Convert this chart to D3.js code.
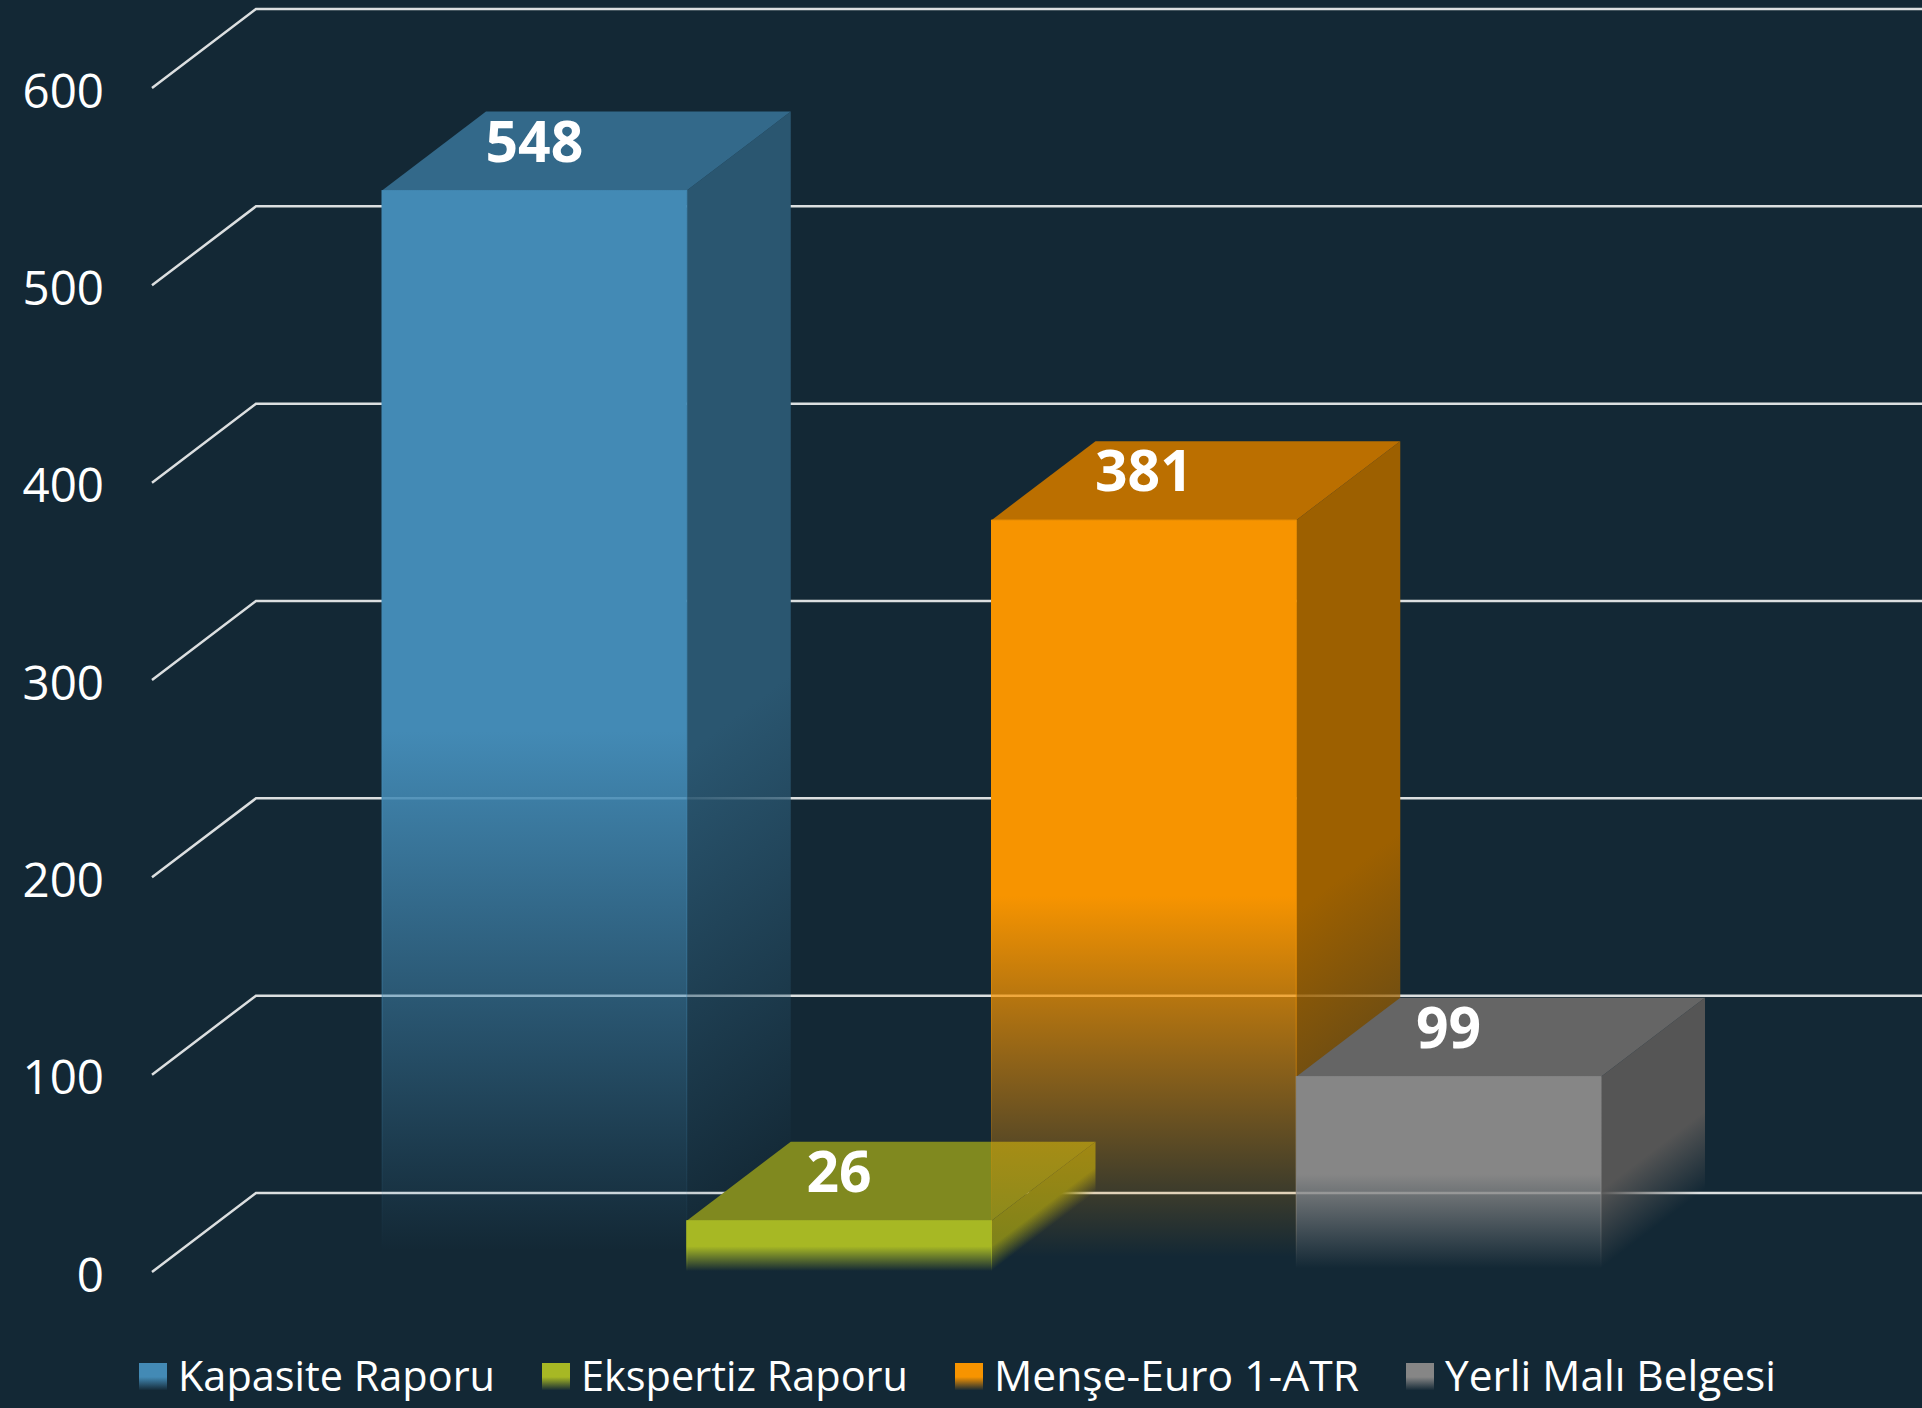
<!DOCTYPE html>
<html>
<head>
<meta charset="utf-8">
<script src="https://cdnjs.cloudflare.com/ajax/libs/d3/7.8.5/d3.min.js"></script>
<style>
  html, body { margin: 0; padding: 0; background: #132835; overflow: hidden; }
  text { font-family: "Open Sans", sans-serif; fill: #fff; }
</style>
</head>
<body>
<div id="chart"></div>
<script>
const categories = ["Kapasite Raporu", "Ekspertiz Raporu", "Menşe-Euro 1-ATR", "Yerli Malı Belgesi"];
const values = [548, 26, 381, 99];
const frontColors = ["#438ab5", "#a7b824", "#f79400", "#868686"];
const topColors = ["#33698a", "#80891f", "#bb6f00", "#656565"];
const sideColors = ["#2a5670", "#7a821b", "#9d6000", "#555555"];
const yTicks = [0, 100, 200, 300, 400, 500, 600];

const width = 1922, height = 1408;
const depthX = 104, depthY = -79;
// legend text widths as measured, the substitute font runs a bit narrow
const legendWidths = [317, 327, 365, 331];
// where each side face starts to fade
const sideFadeStart = [0.52, 0.5, 0.52, 0.58];
// orange side is only seen above grey's top, it stops there and must not show through grey's front
const sideCut = [null, null, 0.742, null];

const svg = d3.select("#chart").append("svg")
    .attr("width", width)
    .attr("height", height)
    .style("display", "block");

const x = d3.scaleBand().domain(categories).range([382, 1601]).padding(0);
const y = d3.scaleLinear().domain([0, 600]).range([1272, 88]);

const defs = svg.append("defs");

function fadeStops(grad, color, start = 0.5, cut = null) {
    grad.append("stop").attr("offset", start).attr("stop-color", color).attr("stop-opacity", 1);
    if (cut) {
        grad.append("stop").attr("offset", cut).attr("stop-color", color).attr("stop-opacity", 0.7);
        grad.append("stop").attr("offset", cut + 0.002).attr("stop-color", color).attr("stop-opacity", 0);
    } else {
        grad.append("stop").attr("offset", 0.98).attr("stop-color", color).attr("stop-opacity", 0);
    }
}

categories.forEach((c, i) => {
    const x0 = x(c), x1 = x0 + x.bandwidth(), yTop = y(values[i]), yBase = y(0);
    fadeStops(defs.append("linearGradient").attr("id", `front${i}`)
        .attr("gradientUnits", "userSpaceOnUse")
        .attr("x1", 0).attr("x2", 0).attr("y1", yTop).attr("y2", yBase), frontColors[i]);
    // side face is sheared, so its gradient gets the same shear
    const k = depthY / depthX;
    fadeStops(defs.append("linearGradient").attr("id", `side${i}`)
        .attr("gradientUnits", "userSpaceOnUse")
        .attr("x1", 0).attr("x2", 0).attr("y1", yTop).attr("y2", yBase)
        .attr("gradientTransform", `matrix(1 ${k} 0 1 0 ${-k * x1})`),
        sideColors[i], sideFadeStart[i], sideCut[i]);
    fadeStops(defs.append("linearGradient").attr("id", `swatch${i}`)
        .attr("x1", 0).attr("x2", 0).attr("y1", 0).attr("y2", 1), frontColors[i]);
});

// gridlines with the wall corner
const grid = svg.append("g");
grid.selectAll("path")
    .data(yTicks)
    .enter()
    .append("path")
    .attr("d", d => `M152,${y(d)}L${152 + depthX},${y(d) + depthY}L${width},${y(d) + depthY}`)
    .attr("fill", "none")
    .attr("stroke", "#dcdfe0")
    .attr("stroke-width", 2.5);

// y axis labels
const axis = svg.append("g")
    .attr("transform", "translate(104,4)")
    .call(d3.axisLeft(y).tickValues(yTicks).tickSize(0).tickPadding(0));
axis.select(".domain").remove();
axis.selectAll("text")
    .style("font-family", '"Open Sans", sans-serif')
    .style("font-size", "47.5px")
    .attr("fill", "#fff");

// bars, drawn in category order
const bars = svg.append("g");
categories.forEach((c, i) => {
    const x0 = x(c), x1 = x0 + x.bandwidth(), yTop = y(values[i]), yBase = y(0);
    const g = bars.append("g");
    g.append("path")
        .attr("d", `M${x1},${yTop}L${x1 + depthX},${yTop + depthY}L${x1 + depthX},${yBase + depthY}L${x1},${yBase}Z`)
        .attr("fill", `url(#side${i})`);
    g.append("path")
        .attr("d", `M${x0},${yTop}L${x0 + depthX},${yTop + depthY}L${x1 + depthX},${yTop + depthY}L${x1},${yTop}Z`)
        .attr("fill", topColors[i]);
    g.append("rect")
        .attr("x", x0)
        .attr("y", yTop)
        .attr("width", x.bandwidth())
        .attr("height", yBase - yTop)
        .attr("fill", `url(#front${i})`)
        .attr("stroke", `url(#front${i})`)
        .attr("stroke-width", 1);
});

// value labels
svg.append("g").selectAll("text")
    .data(values)
    .enter()
    .append("text")
    .attr("x", (d, i) => x(categories[i]) + x.bandwidth() / 2)
    .attr("y", d => y(d) - 29)
    .attr("text-anchor", "middle")
    .style("font-size", "57px")
    .style("font-weight", 700)
    .text(d => d);

// legend, each item placed after the width of the one before
let legendX = 139;
const legend = svg.append("g");
categories.forEach((c, i) => {
    legend.append("rect")
        .attr("x", legendX)
        .attr("y", 1363)
        .attr("width", 28)
        .attr("height", 28)
        .attr("fill", `url(#swatch${i})`);
    legend.append("text")
        .attr("x", legendX + 39)
        .attr("y", 1391)
        .attr("textLength", legendWidths[i])
        .attr("lengthAdjust", "spacingAndGlyphs")
        .style("font-size", "41.5px")
        .text(c);
    legendX += 40 + legendWidths[i] + 46;
});
</script>
</body>
</html>
